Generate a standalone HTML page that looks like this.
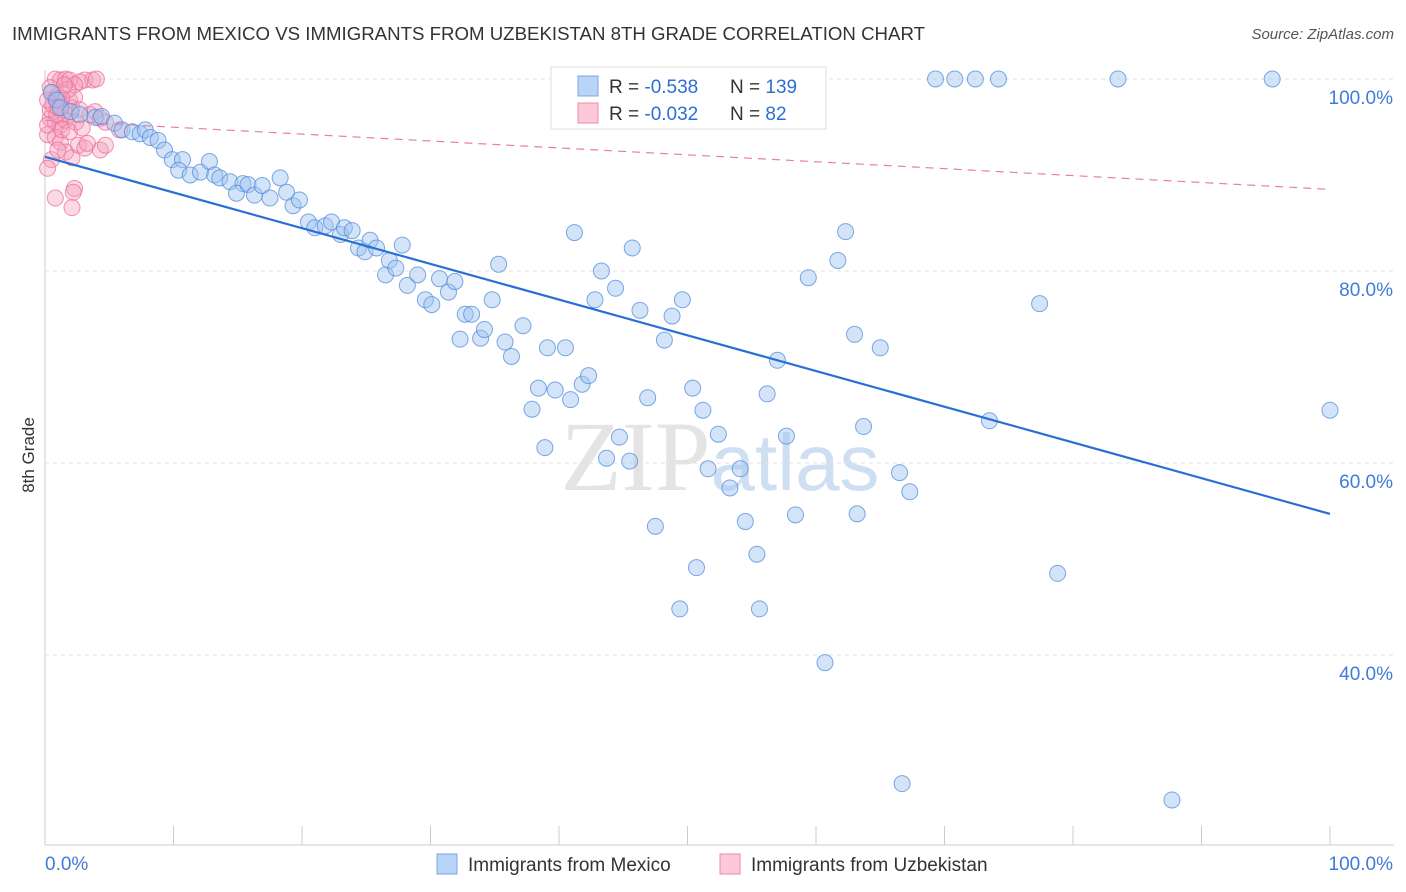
<!DOCTYPE html>
<html><head><meta charset="utf-8"><style>
body{margin:0;background:#fff;font-family:"Liberation Sans",sans-serif;}
svg{display:block}
</style></head><body>
<svg id="chart" width="1406" height="892" xmlns="http://www.w3.org/2000/svg">
<text x="12" y="40" font-size="18.5" fill="#333" textLength="913" lengthAdjust="spacingAndGlyphs">IMMIGRANTS FROM MEXICO VS IMMIGRANTS FROM UZBEKISTAN 8TH GRADE CORRELATION CHART</text>
<text x="1394" y="39" font-size="15" fill="#555" font-style="italic" text-anchor="end">Source: ZipAtlas.com</text>
<text x="34" y="455" font-size="17" fill="#333" text-anchor="middle" transform="rotate(-90 34 455)">8th Grade</text>
<text x="720" y="490" font-size="100" fill="#e4e4e4" text-anchor="middle" font-family="Liberation Serif,serif">ZIP<tspan fill="#cfdff2" font-family="Liberation Sans,sans-serif" font-size="80">atlas</tspan></text>
<g id="grid"></g><g id="axes"></g><g id="pinkpts"></g><g id="bluepts"></g><g id="trends"></g>
<g>
<rect x="551" y="67" width="275" height="62" fill="#fff" stroke="#ddd"/>
<rect x="578" y="76" width="20" height="20" fill="#b8d4f6" stroke="#7aa7e4"/>
<rect x="578" y="103" width="20" height="20" fill="#fbc9d8" stroke="#f08aa8"/>
<text x="609" y="93" font-size="19" fill="#333">R = <tspan fill="#2a6fd6">-0.538</tspan></text>
<text x="730" y="93" font-size="19" fill="#333">N = <tspan fill="#2a6fd6">139</tspan></text>
<text x="609" y="120" font-size="19" fill="#333">R = <tspan fill="#2a6fd6">-0.032</tspan></text>
<text x="730" y="120" font-size="19" fill="#333">N = <tspan fill="#2a6fd6"> 82</tspan></text>
</g>
<g>
<rect x="437" y="854" width="20" height="20" fill="#b8d4f6" stroke="#7aa7e4"/>
<text x="468" y="871" font-size="19" fill="#333">Immigrants from Mexico</text>
<rect x="720" y="854" width="20" height="20" fill="#fbc9d8" stroke="#f08aa8"/>
<text x="751" y="871" font-size="19" fill="#333">Immigrants from Uzbekistan</text>
</g>
</svg>
<script>
const yTicks=[100,80,60,40];
const yTickLabels=["100.0%","80.0%","60.0%","40.0%"];
const xTicks=[0,10,20,30,40,50,60,70,80,90,100];
const xTickLabels=["0.0%","100.0%"];
const blueX=[47.7,54.8,59.9,69.3,70.8,72.4,74.2,83.5,95.5,0.5,0.9,1.2,2.0,2.7,3.9,4.4,5.4,6.0,6.8,7.4,7.8,8.2,8.8,9.3,9.9,10.7,10.4,11.3,12.1,12.8,13.2,13.6,14.4,15.4,14.9,15.8,16.3,16.9,17.5,18.3,18.8,19.3,19.8,20.5,21.0,21.8,22.3,23.0,23.3,23.9,24.4,24.9,25.3,25.8,26.5,26.8,27.3,27.8,28.2,29.0,29.6,30.1,30.7,31.4,31.9,32.7,33.2,32.3,33.9,34.2,34.8,35.8,36.3,35.3,37.2,37.9,38.4,38.9,39.1,39.7,40.5,40.9,41.8,42.3,41.2,42.8,43.3,44.4,44.7,43.7,45.5,45.7,46.3,46.9,47.5,48.2,48.8,49.6,50.4,50.7,49.4,51.2,51.6,52.4,53.3,54.1,54.5,55.4,55.6,56.2,57.0,57.7,58.4,59.4,60.7,61.7,62.3,63.0,63.2,63.7,65.0,66.5,66.7,67.3,73.5,77.4,78.8,87.7,100];
const blueY=[100,100,100,100,100,100,100,100,100,98.6,97.8,97.0,96.6,96.3,96.0,96.1,95.4,94.7,94.5,94.3,94.7,93.9,93.6,92.6,91.6,91.6,90.5,90.0,90.3,91.4,90.0,89.7,89.3,89.1,88.1,89.0,87.9,88.9,87.6,89.7,88.2,86.8,87.4,85.1,84.5,84.7,85.1,83.8,84.5,84.2,82.4,82.0,83.2,82.4,79.6,81.1,80.3,82.7,78.5,79.6,77.0,76.5,79.2,77.8,78.9,75.5,75.5,72.9,73.0,73.9,77.0,72.6,71.1,80.7,74.3,65.6,67.8,61.6,72.0,67.6,72.0,66.6,68.2,69.1,84.0,77.0,80.0,78.2,62.7,60.5,60.2,82.4,75.9,66.8,53.4,72.8,75.3,77.0,67.8,49.1,44.8,65.5,59.4,63.0,57.4,59.4,53.9,50.5,44.8,67.2,70.7,62.8,54.6,79.3,39.2,81.1,84.1,73.4,54.7,63.8,72.0,59.0,26.6,57.0,64.4,76.6,48.5,24.9,65.5];
const pinkX=[0.8,1.2,1.6,1.9,3.1,3.7,4.0,2.7,2.3,0.5,0.8,1.2,1.3,1.6,1.8,0.4,0.8,1.2,1.9,2.1,2.3,2.7,3.5,3.9,4.3,4.7,0.2,0.8,1.2,1.6,2.1,0.5,1.0,2.6,3.1,4.3,4.7,0.2,2.3,2.2,0.8,2.1,3.3,1.3,0.4,0.6,1.0,0.2,1.8,1.6,2.4,0.9,1.3,1.5,0.4,1.9,2.9,5.8,0.2,1.0];
const pinkY=[100,99.9,100,99.9,99.9,99.9,100,99.7,99.4,98.6,98.0,97.6,97.2,96.8,96.3,95.9,95.5,95.2,97.8,97.0,98.1,96.8,96.3,96.6,95.9,95.5,94.2,93.9,93.4,92.4,91.8,91.6,92.6,93.1,92.8,92.6,93.1,90.7,88.6,88.2,87.6,86.6,93.3,94.7,96.8,97.3,98.3,97.8,98.9,95.7,95.5,96.3,98.0,99.4,99.1,94.5,94.9,94.7,95.2,97.0];
const blueTrend=[91.9,54.7];
const pinkTrend=[95.7,88.5];
const NS="http://www.w3.org/2000/svg";
const X0=45,X1=1330,Y100=79,PX=9.6;
function sx(v){return X0+(X1-X0)*v/100;}
function sy(v){return Y100+(100-v)*PX;}
function mk(tag,attrs,parent){const e=document.createElementNS(NS,tag);for(const k in attrs)e.setAttribute(k,attrs[k]);parent.appendChild(e);return e;}
const grid=document.getElementById('grid'),axes=document.getElementById('axes');
yTicks.forEach((t,i)=>{
  const l=mk('line',{x1:X0,x2:1394,y1:sy(t),y2:sy(t),stroke:'#e2e2e2','stroke-dasharray':'4,4'},grid);
  
  
  const tx=mk('text',{x:1393,y:sy(t)+25,'font-size':19,fill:'#3f7bd8','text-anchor':'end'},axes);
  tx.textContent=yTickLabels[i];
  
  
});
const ax=mk('line',{x1:X0,x2:1394,y1:845,y2:845,stroke:'#ccc'},axes);


const ay=mk('line',{x1:X0,x2:X0,y1:70,y2:845,stroke:'#ccc'},axes);


xTicks.forEach(t=>{
  const l=mk('line',{x1:sx(t),x2:sx(t),y1:826,y2:845,stroke:'#ccc'},axes);
  
  
});
const xl0=mk('text',{x:45,y:870,'font-size':19,fill:'#3f7bd8'},axes);
xl0.textContent=xTickLabels[0];


const xl1=mk('text',{x:1393,y:870,'font-size':19,fill:'#3f7bd8','text-anchor':'end'},axes);
xl1.textContent=xTickLabels[1];


const pg=document.getElementById('pinkpts');
pinkX.forEach((v,i)=>{
  const c=mk('circle',{cx:sx(v),cy:sy(pinkY[i]),r:8,fill:'rgba(246,160,190,0.4)',stroke:'rgba(236,110,150,0.75)','stroke-width':1},pg);
  
  
});
const bg=document.getElementById('bluepts');
blueX.forEach((v,i)=>{
  const c=mk('circle',{cx:sx(v),cy:sy(blueY[i]),r:8,fill:'rgba(160,196,240,0.45)',stroke:'rgba(80,140,220,0.75)','stroke-width':1},bg);
  
  
});
const tg=document.getElementById('trends');
const pt=mk('line',{x1:sx(0),y1:sy(pinkTrend[0]),x2:sx(100),y2:sy(pinkTrend[1]),stroke:'#e8809c','stroke-width':1.2,'stroke-dasharray':'8,6'},tg);


const bt=mk('line',{x1:sx(0),y1:sy(blueTrend[0]),x2:sx(100),y2:sy(blueTrend[1]),stroke:'#2a6fd6','stroke-width':2.2},tg);


</script>
</body></html>
